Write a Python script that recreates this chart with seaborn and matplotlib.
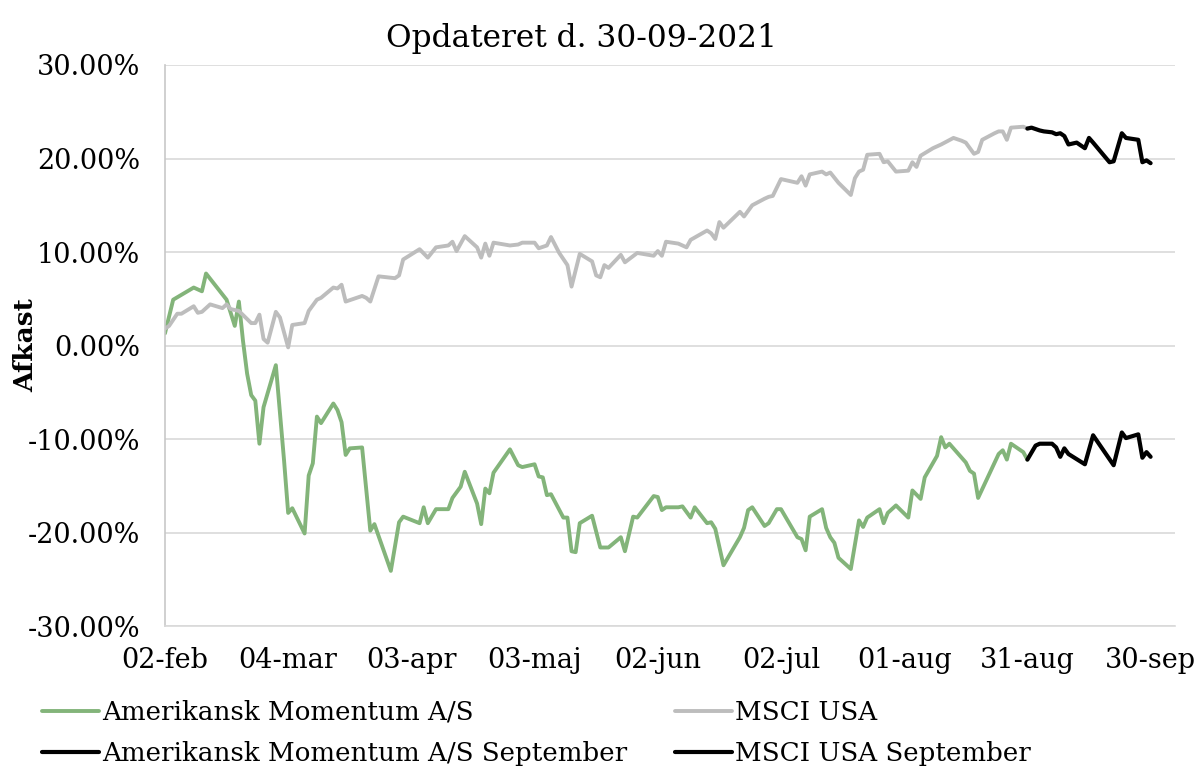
import matplotlib
matplotlib.use("Agg")
import matplotlib.pyplot as plt
from matplotlib.ticker import FuncFormatter
import pandas as pd
import seaborn as sns

# Days after 2 Feb 2021 and return in percent
start = pd.Timestamp("2021-02-02")

green_day = [0, 2, 7, 9, 10, 15, 17, 18, 19, 20, 21, 22, 23, 24, 27, 29, 30, 31, 34, 35,
             36, 37, 38, 41, 42, 43, 44, 45, 48, 50, 51, 55, 57, 58, 62, 63, 64, 66, 69, 70,
             72, 73, 76, 77, 78, 79, 80, 84, 86, 87, 90, 91, 92, 93, 94, 97, 98, 99, 100, 101,
             104, 106, 108, 111, 112, 114, 115, 119, 120, 121, 122, 125, 126, 128, 129, 132, 133, 134, 136, 140,
             141, 142, 143, 146, 147, 149, 150, 154, 155, 156, 157, 160, 161, 162, 163, 164, 167, 169, 170, 171,
             174, 175, 176, 178, 181, 182, 184, 185, 188, 189, 190, 191, 195, 196, 197, 198, 203, 204, 205, 206,
             209, 210]
green_val = [1.3, 4.9, 6.2, 5.8, 7.7, 4.9, 2.1, 4.7, 0.5, -3.0, -5.3, -5.9, -10.5, -6.6, -2.1, -12.3, -17.9, -17.4, -20.1, -13.9,
             -12.6, -7.6, -8.3, -6.2, -6.9, -8.2, -11.7, -11.0, -10.9, -19.8, -19.1, -24.1, -18.9, -18.3, -19.0, -17.3, -19.0, -17.5, -17.5, -16.3,
             -15.1, -13.5, -16.9, -19.1, -15.3, -15.8, -13.6, -11.1, -12.8, -13.0, -12.7, -14.0, -14.1, -16.0, -15.9, -18.4, -18.4, -22.0, -22.1, -19.0,
             -18.2, -21.6, -21.6, -20.5, -22.0, -18.3, -18.4, -16.1, -16.2, -17.6, -17.3, -17.3, -17.2, -18.4, -17.3, -19.0, -18.9, -19.6, -23.5, -20.5,
             -19.5, -17.6, -17.3, -19.3, -19.0, -17.5, -17.5, -20.5, -20.7, -21.9, -18.3, -17.5, -19.5, -20.5, -21.1, -22.7, -23.9, -18.7, -19.4, -18.4,
             -17.5, -19.0, -17.9, -17.1, -18.4, -15.5, -16.4, -14.1, -11.8, -9.8, -10.9, -10.5, -12.5, -13.4, -13.7, -16.3, -11.6, -11.2, -12.2, -10.5,
             -11.4, -12.2]

msci_day = [0, 1, 3, 4, 7, 8, 9, 11, 14, 15, 16, 18, 21, 22, 23, 24, 25, 27, 28, 30,
            31, 34, 35, 37, 38, 41, 42, 43, 44, 48, 49, 50, 52, 56, 57, 58, 62, 64, 66, 69,
            70, 71, 73, 76, 77, 78, 79, 80, 84, 86, 87, 90, 91, 93, 94, 96, 98, 99, 101, 104,
            105, 106, 107, 108, 111, 112, 115, 119, 120, 121, 122, 125, 127, 128, 132, 133, 134, 135, 136, 140,
            141, 143, 146, 147, 148, 150, 154, 155, 156, 157, 160, 161, 162, 164, 167, 168, 169, 170, 171, 174,
            175, 176, 178, 181, 182, 183, 184, 187, 189, 192, 194, 195, 197, 198, 199, 202, 203, 204, 205, 206,
            209, 210]
msci_val = [1.8, 2.1, 3.4, 3.4, 4.2, 3.5, 3.6, 4.4, 4.0, 4.4, 3.9, 3.7, 2.4, 2.4, 3.3, 0.7, 0.3, 3.6, 3.0, -0.2,
            2.2, 2.4, 3.7, 4.9, 5.1, 6.2, 6.1, 6.5, 4.7, 5.3, 5.1, 4.7, 7.4, 7.2, 7.5, 9.2, 10.3, 9.4, 10.5, 10.7,
            11.1, 10.1, 11.7, 10.5, 9.4, 10.9, 9.6, 11.0, 10.7, 10.8, 11.0, 11.0, 10.4, 10.7, 11.6, 9.9, 8.6, 6.3, 9.8, 9.0,
            7.5, 7.3, 8.6, 8.3, 9.7, 8.9, 9.9, 9.6, 10.1, 9.6, 11.1, 10.9, 10.5, 11.3, 12.3, 12.0, 11.4, 13.2, 12.6, 14.3,
            13.8, 15.0, 15.7, 15.9, 16.0, 17.8, 17.4, 18.1, 17.1, 18.3, 18.6, 18.3, 18.5, 17.4, 16.1, 17.9, 18.6, 18.8, 20.4, 20.5,
            19.6, 19.7, 18.6, 18.7, 19.6, 19.1, 20.3, 21.1, 21.5, 22.2, 21.9, 21.7, 20.5, 20.7, 22.0, 22.7, 22.9, 22.9, 22.0, 23.3,
            23.4, 23.2]

green_sep_day = [210, 212, 213, 216, 217, 218, 219, 220, 224, 226, 231, 233, 234, 237, 238, 239, 240]
green_sep_val = [-12.2, -10.7, -10.5, -10.5, -10.9, -11.9, -11.0, -11.6, -12.7, -9.6, -12.8, -9.3, -9.9, -9.5, -12.0, -11.4, -11.9]

msci_sep_day = [210, 211, 213, 214, 216, 217, 218, 219, 220, 222, 224, 225, 226, 230, 231, 233, 234, 237, 238, 239, 240]
msci_sep_val = [23.2, 23.3, 23.0, 22.9, 22.8, 22.6, 22.7, 22.4, 21.5, 21.7, 21.1, 22.2, 21.7, 19.6, 19.7, 22.7, 22.2, 22.0, 19.6, 19.8, 19.5]

tick_day = [0, 30, 60, 90, 120, 150, 180, 210, 240]
tick_labels = ["02-feb", "04-mar", "03-apr", "03-maj", "02-jun", "02-jul", "01-aug", "31-aug", "30-sep"]

labels = ["Amerikansk Momentum A/S", "Amerikansk Momentum A/S September",
          "MSCI USA", "MSCI USA September"]


def to_dates(days):
    return start + pd.to_timedelta(days, unit="D")


sns.set_style("white")
plt.rcParams["font.family"] = ["DejaVu Serif"]
plt.rcParams["text.color"] = "black"
plt.rcParams["axes.labelcolor"] = "black"

fig = plt.figure(figsize=(11.98, 7.71), dpi=100)
ax = fig.add_axes([0.1377, 0.188, 0.981 - 0.1377, 0.9157 - 0.188])

GREEN = "#83b47a"
GRAY = "#bdbdbd"

sns.lineplot(x=to_dates(green_day), y=green_val, ax=ax, color=GREEN, lw=2.8,
             estimator=None, sort=False, label=labels[0])
sns.lineplot(x=to_dates(green_sep_day), y=green_sep_val, ax=ax, color="black", lw=3,
             estimator=None, sort=False, label=labels[1])
sns.lineplot(x=to_dates(msci_day), y=msci_val, ax=ax, color=GRAY, lw=2.8,
             estimator=None, sort=False, label=labels[2])
sns.lineplot(x=to_dates(msci_sep_day), y=msci_sep_val, ax=ax, color="black", lw=3,
             estimator=None, sort=False, label=labels[3])

ax.set_xlim(start, start + pd.Timedelta(days=246))
ax.set_ylim(-30, 30)
ax.set_yticks(range(-30, 31, 10))
ax.yaxis.set_major_formatter(FuncFormatter(lambda v, p: f"{v:.2f}%"))
ax.set_xticks(to_dates(tick_day))
ax.set_xticklabels(tick_labels)

ax.grid(axis="y", color="#d9d9d9", lw=1.2)
ax.grid(axis="x", visible=False)
for s in ["top", "right"]:
    ax.spines[s].set_visible(False)
ax.spines["left"].set_color("#c8c8c8")
ax.spines["bottom"].set_color("#d9d9d9")
ax.spines["left"].set_linewidth(1.2)
ax.spines["bottom"].set_linewidth(1.2)
ax.tick_params(axis="both", length=0, labelsize=19.5, colors="black")
ax.tick_params(axis="y", pad=18)
ax.tick_params(axis="x", pad=15)

ax.set_xlabel("")
ax.set_ylabel("Afkast", fontsize=19, fontweight="bold")
ax.yaxis.set_label_coords(-0.125, 0.5)

fig.text(581 / 1198, 1 - 38 / 771, "Opdateret d. 30-09-2021", fontsize=22.5,
         ha="center", va="center", color="black")

handles, labs = ax.get_legend_handles_labels()
ax.get_legend().remove()
fig.legend(handles, labs, ncol=2, loc="upper left", bbox_to_anchor=(42 / 1198, 1 - 700 / 771),
           frameon=False, fontsize=18.8, handlelength=2.2, handletextpad=0.12,
           columnspacing=1.8, labelspacing=0.62, borderpad=0, borderaxespad=0)

fig.savefig("out.png", dpi=100)
